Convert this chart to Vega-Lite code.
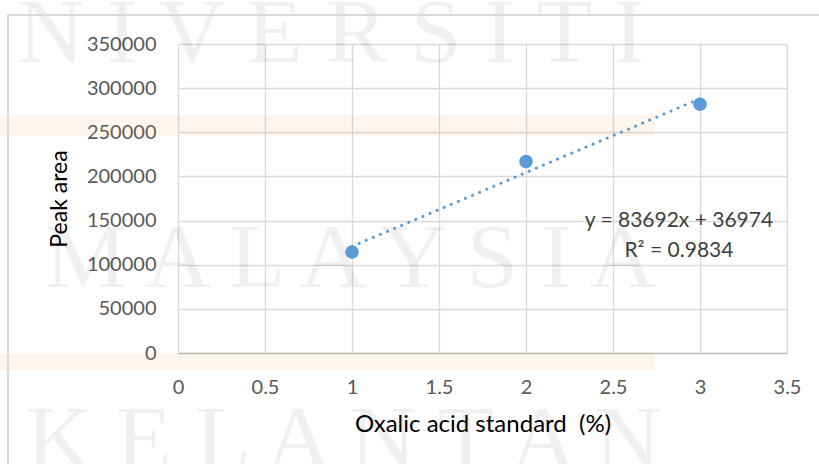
{
  "$schema": "https://vega.github.io/schema/vega-lite/v6.json",
  "width": 609,
  "height": 309,
  "autosize": {"type": "none"},
  "padding": {"left": 178, "top": 44, "right": 32, "bottom": 111},
  "background": "white",
  "config": {
    "font": "Lato",
    "view": {"stroke": null},
    "axis": {
      "grid": true,
      "labelFont": "Lato",
      "labelFontSize": 20,
      "labelColor": "#595959",
      "labelFlush": false,
      "titleFont": "Lato",
      "titleFontSize": 23,
      "titleFontWeight": "normal",
      "titleColor": "#000000",
      "ticks": false,
      "gridColor": "#d9d9d9",
      "gridWidth": 1.3,
      "gridOpacity": 1
    }
  },
  "data": {
    "values": [
      {"x": 1, "y": 114388},
      {"x": 2, "y": 216914},
      {"x": 3, "y": 281772}
    ]
  },
  "layer": [
    {
      "data": {"values": [{}]},
      "mark": {"type": "rect", "color": "#ff8c3c", "opacity": 0.09},
      "encoding": {
        "x": {"datum": -1.1, "type": "quantitative", "scale": {"domain": [0, 3.5], "nice": false}},
        "x2": {"datum": 2.74},
        "y": {"datum": 269600, "type": "quantitative", "scale": {"domain": [0, 350000], "nice": false}},
        "y2": {"datum": 245800}
      }
    },
    {
      "data": {"values": [{}]},
      "mark": {"type": "rect", "color": "#ff8c3c", "opacity": 0.09},
      "encoding": {
        "x": {"datum": -1.1, "type": "quantitative"},
        "x2": {"datum": 2.74},
        "y": {"datum": -500, "type": "quantitative"},
        "y2": {"datum": -19300}
      }
    },
    {
      "data": {"values": [{}]},
      "mark": {"type": "text", "font": "Liberation Serif", "fontSize": 92, "color": "#000000", "opacity": 0.055, "align": "center", "baseline": "alphabetic"},
      "encoding": {
        "x": {"datum": 0.879, "type": "quantitative"},
        "y": {"datum": 329600, "type": "quantitative"},
        "text": {"value": "N I V E R S I T I"}
      }
    },
    {
      "data": {"values": [{}]},
      "mark": {"type": "text", "font": "Liberation Serif", "fontSize": 92, "color": "#000000", "opacity": 0.055, "align": "right", "baseline": "alphabetic"},
      "encoding": {
        "x": {"datum": 2.747, "type": "quantitative"},
        "y": {"datum": 74760, "type": "quantitative"},
        "text": {"value": "M A L A Y S I A"}
      }
    },
    {
      "data": {"values": [{}]},
      "mark": {"type": "text", "font": "Liberation Serif", "fontSize": 92, "color": "#000000", "opacity": 0.055, "align": "right", "baseline": "alphabetic"},
      "encoding": {
        "x": {"datum": 2.776, "type": "quantitative"},
        "y": {"datum": -131400, "type": "quantitative"},
        "text": {"value": "K E L A N T A N"}
      }
    },
    {
      "data": {"values": [{}]},
      "mark": {"type": "rect", "fill": null, "fillOpacity": 0, "stroke": "#d9d9d9", "strokeWidth": 2},
      "encoding": {
        "x": {"datum": -0.977, "type": "quantitative"},
        "x2": {"datum": 4.3},
        "y": {"datum": 382850, "type": "quantitative"},
        "y2": {"datum": -170000}
      }
    },
    {
      "transform": [{"regression": "y", "on": "x"}],
      "mark": {"type": "line", "color": "#5b9bd5", "strokeWidth": 3, "strokeDash": [0.1, 7.6], "strokeCap": "round"},
      "encoding": {
        "x": {"field": "x", "type": "quantitative"},
        "y": {"field": "y", "type": "quantitative"}
      }
    },
    {
      "mark": {"type": "point", "filled": true, "color": "#5b9bd5", "opacity": 1, "size": 185},
      "encoding": {
        "x": {
          "field": "x",
          "type": "quantitative",
          "title": "Oxalic acid standard \u00a0(%)",
          "scale": {"domain": [0, 3.5], "nice": false},
          "axis": {
            "grid": true,
            "values": [0, 0.5, 1, 1.5, 2, 2.5, 3, 3.5],
            "format": "~g",
            "labelPadding": 24,
            "titlePadding": 15,
            "titleFontSize": 24,
            "domainColor": "#bfbfbf",
            "domainWidth": 1.5
          }
        },
        "y": {
          "field": "y",
          "type": "quantitative",
          "title": "Peak area",
          "scale": {"domain": [0, 350000], "nice": false},
          "axis": {
            "grid": true,
            "values": [0, 50000, 100000, 150000, 200000, 250000, 300000, 350000],
            "format": "d",
            "labelPadding": 22,
            "titlePadding": 15,
            "domain": false
          }
        }
      }
    },
    {
      "data": {"values": [{}]},
      "mark": {"type": "text", "font": "Lato", "fontSize": 21, "fontWeight": "normal", "color": "#404040", "align": "center", "baseline": "middle", "lineHeight": 30},
      "encoding": {
        "x": {"datum": 2.879, "type": "quantitative"},
        "y": {"datum": 149500, "type": "quantitative"},
        "text": {"value": ["y = 83692x + 36974", "R² = 0.9834"]}
      }
    }
  ]
}
